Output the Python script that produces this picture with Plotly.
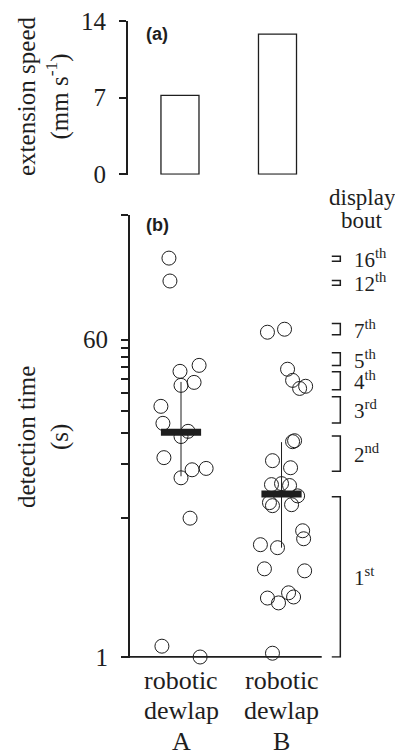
import math
import plotly.graph_objects as go

# ---------------- data ----------------
# Panel (a): extension speed of the two robotic dewlaps
dewlap_pos = [1, 2]
extension_speed = [7.2, 12.8]
speed_ticks = [0, 7, 14]

# Panel (b): detection times (s) with horizontal jitter (category units)
time_A = [172, 128, 39.9, 43.1, 33.3, 34.6, 25.4, 20.4, 18.4, 17.2, 13.1, 11.2,
          11.4, 10.1, 6.0, 1.15, 1.0]
jitter_A = [-0.12, -0.11, -0.01, 0.18, 0.0, 0.13, -0.20, -0.18, 0.07, 0.0, -0.17,
            0.11, 0.25, 0.0, 0.09, -0.19, 0.19]
time_B = [66.1, 68.7, 41.0, 35.5, 32.0, 32.9, 16.1, 16.3, 12.6, 11.5, 9.25, 9.37,
          9.14, 8.0, 7.33, 7.05, 7.14, 5.1, 4.6, 4.26, 4.1, 3.12, 3.04, 2.14, 2.01,
          2.29, 2.17, 1.05]
jitter_B = [-0.14, 0.03, 0.06, 0.11, 0.18, 0.24, 0.11, 0.13, -0.09, 0.09, -0.10, 0.0,
            0.08, 0.16, -0.12, -0.09, 0.10, 0.21, 0.22, -0.21, -0.04, -0.17, 0.23,
            -0.14, -0.03, 0.07, 0.12, -0.09]
mean_time = [18.2, 8.2]
low_time = [10.3, 4.1]
high_time = [34.8, 16.0]

time_tickvals = [1, 6, 12, 18, 24, 30, 36, 42, 48, 54, 60, 300]
time_ticktext = ["1", "", "", "", "", "", "", "", "", "", "60", ""]
category_lines = [["robotic", "dewlap", "A"], ["robotic", "dewlap", "B"]]

bout_labels = ["1<sup>st</sup>", "2<sup>nd</sup>", "3<sup>rd</sup>", "4<sup>th</sup>",
               "5<sup>th</sup>", "7<sup>th</sup>", "12<sup>th</sup>", "16<sup>th</sup>"]
bout_start = [1, 11, 20.5, 31.5, 43, 64, 121, 165]
bout_end = [7.9, 17.3, 28.7, 39.7, 50.7, 74, 129, 176]

# ---------------- figure ----------------
W, H = 395, 752
ML = 128
PW = W - ML
def py(px):
    return 1 - px / H

SERIF = "Liberation Serif, Times New Roman, Times, DejaVu Serif, serif"
SANS = "Liberation Sans, Arial, Helvetica, sans-serif"
INK = "#1e1e1e"

fig = go.Figure()

fig.add_trace(go.Bar(
    x=dewlap_pos, y=extension_speed, width=0.39,
    marker=dict(color="white", line=dict(color=INK, width=1.3)),
    xaxis="x", yaxis="y", showlegend=False))

for c, jit, vals in [(1, jitter_A, time_A), (2, jitter_B, time_B)]:
    fig.add_trace(go.Scatter(
        x=[c + j for j in jit], y=vals, mode="markers",
        marker=dict(symbol="circle-open", size=14, color=INK, line=dict(width=1)),
        xaxis="x2", yaxis="y2", showlegend=False, cliponaxis=False))

for i, c in enumerate([1, 2]):
    fig.add_trace(go.Scatter(
        x=[c, c], y=[low_time[i], high_time[i]], mode="lines",
        line=dict(color=INK, width=1), xaxis="x2", yaxis="y2", showlegend=False))
    fig.add_trace(go.Scatter(
        x=[c - 0.2, c + 0.2], y=[mean_time[i], mean_time[i]], mode="lines",
        line=dict(color=INK, width=7), xaxis="x2", yaxis="y2", showlegend=False))

# bottom baseline of panel (b)
fig.add_trace(go.Scatter(
    x=[0.4925, 2.40], y=[1, 1], mode="lines", line=dict(color=INK, width=2),
    xaxis="x2", yaxis="y2", showlegend=False))

# category labels under panel (b)
for c, lines in zip(dewlap_pos, category_lines):
    for k, (txt, ypx) in enumerate(zip(lines, [680, 710, 741])):
        fig.add_annotation(x=c, y=py(ypx), xref="x2", yref="paper", text=txt,
                           showarrow=False, xanchor="center", yanchor="middle",
                           font=dict(family=SERIF, size=26, color=INK))

# display bout brackets
for s, e, lab in zip(bout_start, bout_end, bout_labels):
    fig.add_trace(go.Scatter(
        x=[2.50, 2.585, 2.585, 2.50], y=[s, s, e, e], mode="lines",
        line=dict(color=INK, width=1.5), xaxis="x2", yaxis="y2", showlegend=False))
    fig.add_annotation(
        x=2.70, y=(math.log10(s) + math.log10(e)) / 2, xref="x2", yref="y2",
        text=lab, showarrow=False, xanchor="left", yanchor="middle",
        font=dict(family=SERIF, size=21, color=INK))

fig.add_annotation(x=(362 - ML) / PW, y=py(197), xref="paper", yref="paper",
                   text="display", showarrow=False, xanchor="center", yanchor="middle",
                   font=dict(family=SERIF, size=23, color=INK))
fig.add_annotation(x=(362 - ML) / PW, y=py(220), xref="paper", yref="paper",
                   text="bout", showarrow=False, xanchor="center", yanchor="middle",
                   font=dict(family=SERIF, size=23, color=INK))

fig.add_annotation(x=(157 - ML) / PW, y=py(34), xref="paper", yref="paper",
                   text="<b>(a)</b>", showarrow=False, xanchor="center", yanchor="middle",
                   font=dict(family=SANS, size=18, color=INK))
fig.add_annotation(x=(157 - ML) / PW, y=py(225), xref="paper", yref="paper",
                   text="<b>(b)</b>", showarrow=False, xanchor="center", yanchor="middle",
                   font=dict(family=SANS, size=18, color=INK))

fig.add_annotation(x=(44 - ML) / PW, y=py(97), xref="paper", yref="paper",
                   text="extension speed<br>(mm s<sup>-1</sup>)", textangle=-90,
                   showarrow=False, xanchor="center", yanchor="middle",
                   font=dict(family=SERIF, size=25, color=INK))
fig.add_annotation(x=(44 - ML) / PW, y=py(437), xref="paper", yref="paper",
                   text="detection time<br>(s)", textangle=-90,
                   showarrow=False, xanchor="center", yanchor="middle",
                   font=dict(family=SERIF, size=25, color=INK))

axis_common = dict(showline=True, linecolor=INK, linewidth=1.8, ticks="outside",
                   ticklen=7, tickwidth=1.6, tickcolor=INK, showgrid=False,
                   zeroline=False, automargin=False,
                   tickfont=dict(family=SERIF, size=25, color=INK))

lo_b = math.log10(0.99)
hi_b = math.log10(300)
fig.update_layout(
    width=W, height=H, autosize=False,
    margin=dict(l=ML, r=0, t=0, b=0),
    paper_bgcolor="white", plot_bgcolor="white",
    xaxis=dict(domain=[0, 1], range=[0.467, 3.205], visible=False, anchor="y"),
    yaxis=dict(domain=[py(174.8), py(21)], range=[-0.07, 14], tickvals=speed_ticks,
               anchor="x", ticklabelstandoff=8, **axis_common),
    xaxis2=dict(domain=[2 / PW, 1], range=[0.4925, 3.129], anchor="y2",
                showline=False, ticks="", showgrid=False, zeroline=False,
                showticklabels=False, automargin=False),
    yaxis2=dict(domain=[py(657 + 0.0044 * 178.4), py(215)], type="log",
                range=[lo_b, hi_b], tickvals=time_tickvals, ticktext=time_ticktext,
                anchor="x2", ticklabelstandoff=8, **axis_common),
)

fig.write_html("out.html", config={"displayModeBar": False},
               post_script="document.body.style.margin='0';")
